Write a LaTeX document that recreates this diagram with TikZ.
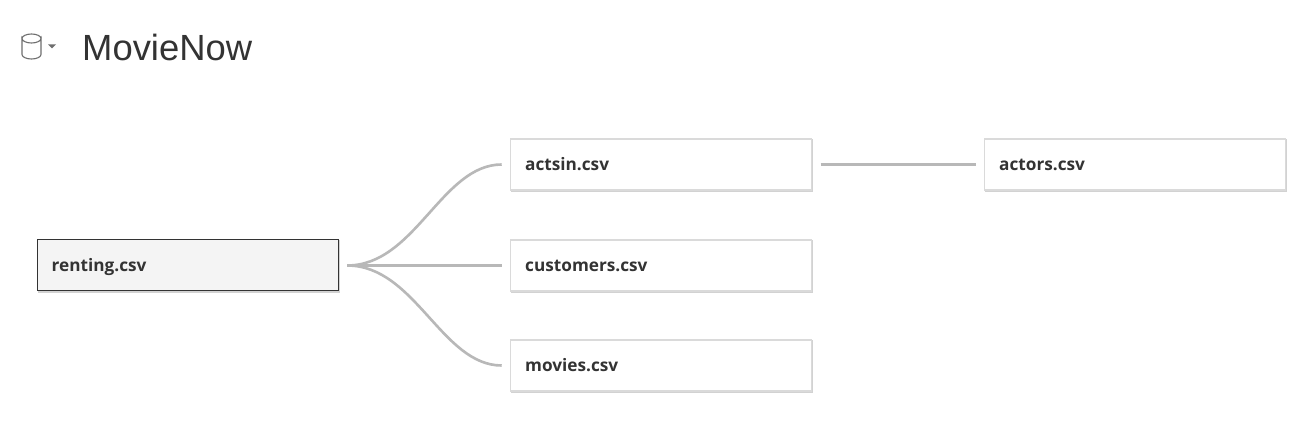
\documentclass[tikz,border=0pt]{standalone}
\usepackage{fontspec}
\setmainfont{Open Sans}
\newfontfamily\titlefont{Liberation Sans}
\definecolor{inkc}{HTML}{333333}
\definecolor{boxline}{HTML}{DADADA}
\definecolor{shadowc}{HTML}{D2D2D2}
\definecolor{linkc}{HTML}{B8B8B8}
\definecolor{iconc}{HTML}{6E6E6E}
\tikzset{
  tablebox/.style={draw=boxline,line width=1.1pt,fill=white,minimum height=51pt,
    inner xsep=14.5pt,inner ysep=0pt,outer sep=9pt,anchor=center,align=left,text width=272pt,
    text height=14pt,text depth=2pt,
    preaction={draw=shadowc,fill=shadowc,line width=1.1pt,transform canvas={shift={(1pt,-1pt)}}},
    font=\bfseries\fontsize{17.2}{20}\selectfont,text=inkc},
  rootbox/.style={tablebox,draw=inkc,fill=black!4.5,line width=1pt},
  linkline/.style={draw=linkc,line width=2.6pt}
}
\begin{document}
\begin{tikzpicture}[x=1pt,y=-1pt]
\useasboundingbox (0,0) rectangle (1306,438);
\fill[white] (0,0) rectangle (1306,438);
% icon
\draw[iconc,line width=1.1pt] (22,38.5) arc[start angle=180,end angle=0,x radius=9.5,y radius=4.5]
  -- (41,54.5) arc[start angle=0,end angle=180,x radius=9.5,y radius=4.5] -- cycle;
\draw[iconc,line width=1.1pt] (22,38.5) arc[start angle=180,end angle=360,x radius=9.5,y radius=4.5];
\fill[iconc] (48,44.5) -- (56,44.5) -- (52,48.5) -- cycle;
\node[anchor=west,inner sep=0pt,text=inkc,font=\titlefont\fontsize{36.4}{40}\selectfont] (title) at (82,47) {MovieNow};
% boxes
\node[rootbox] (renting) at (187.7,265.5) {renting.csv};
\node[tablebox] (actsin) at (661.2,164.5) {actsin.csv};
\node[tablebox] (customers) at (661.2,265.5) {customers.csv};
\node[tablebox] (movies) at (661.2,365.5) {movies.csv};
\node[tablebox] (actors) at (1135.2,164.5) {actors.csv};
% links
\draw[linkline] (renting.east) .. controls +(68,0) and +(-60,0) .. (actsin.west);
\draw[linkline] (renting.east) .. controls +(68,0) and +(-60,0) .. (movies.west);
\draw[linkline] (renting.east) -- (customers.west);
\draw[linkline] (actsin.east) -- (actors.west);
\end{tikzpicture}
\end{document}
